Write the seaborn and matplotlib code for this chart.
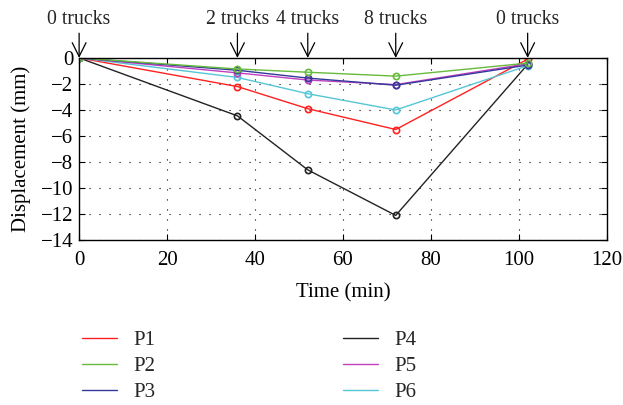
import matplotlib
matplotlib.use("Agg")
import matplotlib.pyplot as plt
import matplotlib.lines as mlines
import seaborn as sns
import pandas as pd

times = [0, 36, 52, 72, 102]
P1 = [0, -2.2, -3.9, -5.5, -0.1]
P2 = [0, -0.85, -1.1, -1.4, -0.4]
P3 = [0, -0.95, -1.55, -2.1, -0.55]
P4 = [0, -4.45, -8.6, -12.1, -0.5]
P5 = [0, -1.15, -1.7, -2.05, -0.45]
P6 = [0, -1.5, -2.75, -4.0, -0.6]
series_names = ["P1", "P2", "P3", "P4", "P5", "P6"]
series_values = [P1, P2, P3, P4, P5, P6]
colors = {"P1": "#ff2020", "P2": "#66bb3c", "P3": "#33399a", "P4": "#222222",
          "P5": "#c040c0", "P6": "#55c6d6"}
event_times = [0, 36, 52, 72, 102]
event_labels = ["0 trucks", "2 trucks", "4 trucks", "8 trucks", "0 trucks"]

rows = []
for name, vals in zip(series_names, series_values):
    for t, v in zip(times, vals):
        rows.append({"Time": t, "Disp": v, "Series": name})
df = pd.DataFrame(rows)

sns.set_theme(style="ticks")
plt.rcParams['font.family'] = ['Liberation Serif', 'DejaVu Serif']
plt.rcParams['axes.unicode_minus'] = True

FS = 15
fig = plt.figure(figsize=(6.23, 4.05), dpi=100)
ax = fig.add_axes([0.127, 0.407, 0.847, 0.45])

draw_order = ["P4", "P1", "P6", "P5", "P3", "P2"]
for name in draw_order:
    sub = df[df["Series"] == name]
    sns.lineplot(data=sub, x="Time", y="Disp", ax=ax, color=colors[name],
                 marker="o", markersize=4.5, markerfacecolor="none",
                 markeredgecolor=colors[name], markeredgewidth=1.2,
                 linewidth=1.0, legend=False)

ax.set_xlim(0, 120)
ax.set_ylim(-14, 0)
ax.set_xticks(range(0, 121, 20))
ax.set_yticks(range(-14, 1, 2))
ax.tick_params(direction="in", top=True, right=True, length=4, width=0.8,
               labelsize=FS, colors="black")
ax.tick_params(axis="x", pad=8)
ax.tick_params(axis="y", pad=4)
for s in ax.spines.values():
    s.set_linewidth(1.0)
    s.set_color("black")
ax.grid(True, color="black", linestyle=(0, (1, 8)), linewidth=0.8)
ax.set_xlabel("Time (min)", fontsize=FS, color="black", labelpad=9)
ax.set_ylabel("Displacement (mm)", fontsize=FS, color="black", labelpad=7)

for t, lab in zip(event_times, event_labels):
    ax.annotate(lab, xy=(t, 0), xytext=(0, 28), textcoords="offset points",
                ha="center", va="center", fontsize=14.2, annotation_clip=False,
                arrowprops=dict(arrowstyle="->,head_length=0.7,head_width=0.35",
                                color="black", lw=0.9, shrinkA=1, shrinkB=0))

proxies = [mlines.Line2D([], [], color=colors[n], linewidth=1.0) for n in series_names]
fig.legend(proxies, series_names, ncol=2, loc="upper left",
           bbox_to_anchor=(0.131, 0.183), frameon=False, fontsize=FS,
           handlelength=1.7, handletextpad=0.8, columnspacing=8.97,
           labelspacing=0.3, borderaxespad=0, borderpad=0)

fig.savefig("out.png", dpi=100)
